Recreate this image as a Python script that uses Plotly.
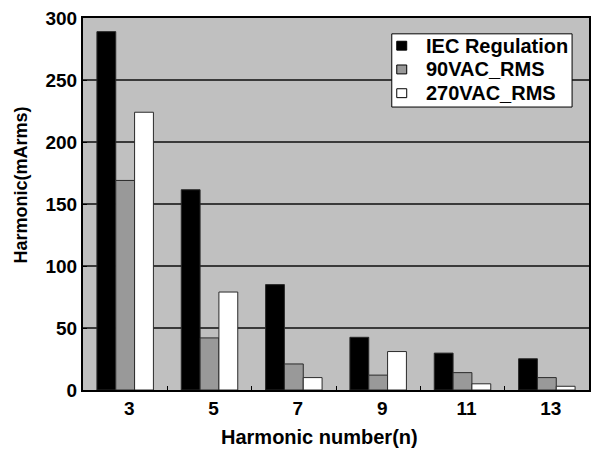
import plotly.graph_objects as go

# Harmonic current per order (mA rms)
harmonic_orders = ["3", "5", "7", "9", "11", "13"]
iec_limit = [289, 161.5, 85, 42.5, 29.75, 25.2]
vac90_rms = [169, 42, 21, 12, 14, 10]
vac270_rms = [224, 79, 10, 31, 5, 3]

series_names = ["IEC Regulation", "90VAC_RMS", "270VAC_RMS"]
series_colors = ["#000000", "#999999", "#ffffff"]
series_values = [iec_limit, vac90_rms, vac270_rms]

y_ticks = [0, 50, 100, 150, 200, 250, 300]

FONT = "Arial, Liberation Sans, sans-serif"
OUTLINE = dict(color="#2a2a2a", width=1)

W, H = 599, 450
M_L, M_R, M_T, M_B = 83, 8, 14, 60
PLOT_W = W - M_L - M_R
PLOT_H = H - M_T - M_B


def px_x(px):
    """Pixel column -> paper x."""
    return (px - M_L) / PLOT_W


def px_y(py):
    """Pixel row -> paper y."""
    return (H - M_B - py) / PLOT_H


fig = go.Figure()
for name, color, vals in zip(series_names, series_colors, series_values):
    fig.add_trace(go.Bar(x=harmonic_orders, y=vals, name=name,
                         marker=dict(color=color, line=OUTLINE),
                         showlegend=False))

# Boxed legend in the upper right corner
shapes = [dict(type="rect", xref="paper", yref="paper",
               x0=px_x(393), x1=px_x(574), y0=px_y(104), y1=px_y(30),
               fillcolor="#ffffff", line=dict(color="#000000", width=1),
               layer="above")]
annotations = []
for i, (name, color) in enumerate(zip(series_names, series_colors)):
    cy = 42 + 24 * i
    shapes.append(dict(type="rect", xref="paper", yref="paper",
                       x0=px_x(398), x1=px_x(408), y0=px_y(cy + 4.5), y1=px_y(cy - 4.5),
                       fillcolor=color, line=dict(color="#000000", width=1),
                       layer="above"))
    annotations.append(dict(text=name, xref="paper", yref="paper",
                            x=px_x(425), y=px_y(cy), xanchor="left", yanchor="middle",
                            showarrow=False,
                            font=dict(family=FONT, size=20, weight="bold", color="#000000")))

# Axis titles
annotations.append(dict(text="Harmonic(mArms)", xref="paper", yref="paper",
                        x=px_x(21), y=px_y(183), xanchor="center", yanchor="middle",
                        textangle=-90, showarrow=False,
                        font=dict(family=FONT, size=18, weight="bold", color="#000000")))
annotations.append(dict(text="Harmonic number(n)", xref="paper", yref="paper",
                        x=px_x(320), y=px_y(437), xanchor="center", yanchor="middle",
                        showarrow=False,
                        font=dict(family=FONT, size=20, weight="bold", color="#000000")))

fig.update_layout(
    width=W, height=H,
    margin=dict(l=M_L, r=M_R, t=M_T, b=M_B),
    paper_bgcolor="#ffffff",
    plot_bgcolor="#c0c0c0",
    barmode="group",
    bargap=0.33,
    bargroupgap=0,
    font=dict(family=FONT, color="#000000"),
    showlegend=False,
    shapes=shapes,
    annotations=annotations,
)

fig.update_xaxes(
    type="category",
    tickfont=dict(size=19, weight="bold"),
    ticklabelshift=4,
    showline=True, mirror=True, linecolor="#000000", linewidth=2,
    ticks="inside", tickson="boundaries", ticklen=4, tickcolor="#000000",
    showgrid=False,
)
fig.update_yaxes(
    range=[0, 300],
    tickvals=y_ticks,
    tickfont=dict(size=19, weight="bold"),
    showline=True, mirror=True, linecolor="#000000", linewidth=2,
    ticks="inside", ticklen=4, tickcolor="#000000",
    showgrid=True, gridcolor="#3a3a3a", gridwidth=1.5,
    zeroline=False,
)

fig.write_html("out.html")
